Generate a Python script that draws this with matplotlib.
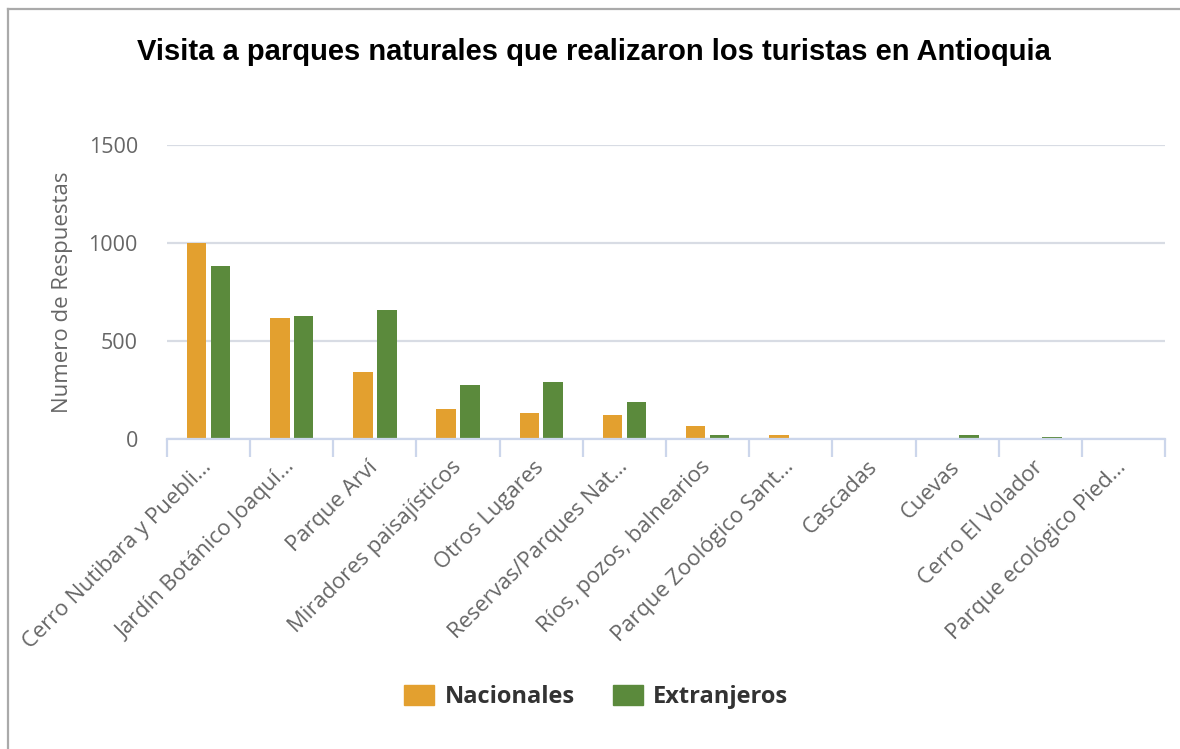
import numpy as np
import matplotlib.pyplot as plt
from matplotlib.lines import Line2D

# Respuestas por parque
lugares = [
    "Cerro Nutibara y Puebli…",
    "Jardín Botánico Joaquí…",
    "Parque Arví",
    "Miradores paisajísticos",
    "Otros Lugares",
    "Reservas/Parques Nat…",
    "Ríos, pozos, balnearios",
    "Parque Zoológico Sant…",
    "Cascadas",
    "Cuevas",
    "Cerro El Volador",
    "Parque ecológico Pied…",
]
nacionales = [1000, 618, 341, 152, 133, 123, 66, 18, 0, 0, 0, 0]
extranjeros = [885, 630, 657, 276, 293, 189, 18, 0, 0, 18, 9, 0]
y_ticks = [0, 500, 1000, 1500]

COLOR_NAC = "#e3a02f"
COLOR_EXT = "#5b8a3c"
AXIS_COLOR = "#ccd6eb"
GRID_COLOR = "#d8dce4"
LABEL_COLOR = "#666666"

fig = plt.figure(figsize=(11.8, 7.49), dpi=100)
ax = fig.add_axes([0.1415, 0.4139, 0.8458, 0.3925])

x = np.arange(len(lugares))
w = 0.235
ax.bar(x - 0.143, nacionales, width=w, color=COLOR_NAC, zorder=3)
ax.bar(x + 0.143, extranjeros, width=w, color=COLOR_EXT, zorder=3)

ax.set_xlim(-0.5, len(lugares) - 0.5)
ax.set_ylim(0, 1500)

# grid and axis lines
ax.set_yticks(y_ticks)
ax.yaxis.grid(True, color=GRID_COLOR, linewidth=1.6, zorder=0)
ax.set_axisbelow(True)
for side in ["top", "right", "left"]:
    ax.spines[side].set_visible(False)
ax.spines["bottom"].set_color(AXIS_COLOR)
ax.spines["bottom"].set_linewidth(1.6)
ax.spines["bottom"].set_zorder(4)

ax.tick_params(axis="y", length=0, pad=21, labelsize=15.5, labelcolor=LABEL_COLOR)
for lbl in ax.get_yticklabels():
    lbl.set_fontfamily("Open Sans")

# boundary ticks between categories, labels at the centers
ax.set_xticks(np.arange(-0.5, len(lugares), 1.0))
ax.set_xticklabels([])
ax.tick_params(axis="x", which="major", length=13, width=1.6, color=AXIS_COLOR)
ax.set_xticks(x, minor=True)
ax.set_xticklabels(lugares, minor=True, rotation=45, ha="right", va="center",
                   rotation_mode="anchor", fontsize=15.8, color=LABEL_COLOR,
                   fontfamily="Open Sans")
ax.tick_params(axis="x", which="minor", length=0, pad=18)

ax.set_ylabel("Numero de Respuestas", fontsize=16, color=LABEL_COLOR,
              fontfamily="Open Sans")
ax.yaxis.set_label_coords(-0.094, 0.5)

fig.text(0.503, 0.930, "Visita a parques naturales que realizaron los turistas en Antioquia",
         ha="center", va="center", fontsize=21, fontweight="bold",
         fontfamily="Liberation Sans", color="black")

handles = [
    plt.Rectangle((0, 0), 1, 1, color=COLOR_NAC),
    plt.Rectangle((0, 0), 1, 1, color=COLOR_EXT),
]
leg = fig.legend(handles, ["Nacionales", "Extranjeros"], loc="center",
                 bbox_to_anchor=(0.5055, 0.0694), ncol=2, frameon=False,
                 handlelength=1.27, handleheight=0.93, handletextpad=0.42,
                 columnspacing=1.65,
                 prop={"family": "Open Sans", "weight": "bold", "size": 17})
for t in leg.get_texts():
    t.set_color("#333333")

# outer frame (left and top edges)
fig.add_artist(Line2D([0.0072, 0.0072], [0.0, 0.988], color="#aaaaaa", linewidth=1.6,
                      transform=fig.transFigure))
fig.add_artist(Line2D([0.0072, 1.0], [0.988, 0.988], color="#aaaaaa", linewidth=1.6,
                      transform=fig.transFigure))

fig.savefig("out.png", dpi=100, facecolor="white")
